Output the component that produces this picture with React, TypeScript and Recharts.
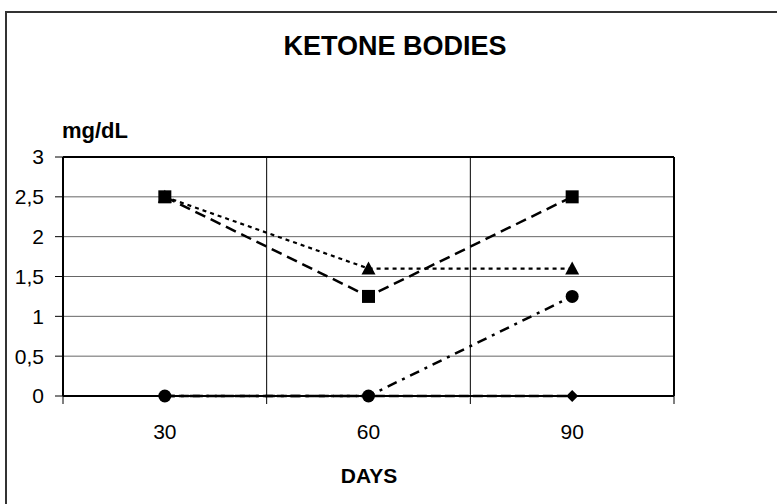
import {
  LineChart,
  Line,
  XAxis,
  YAxis,
  CartesianGrid,
  ReferenceLine,
} from 'recharts';

const days = [30, 60, 90];
const squareValues = [2.5, 1.25, 2.5];
const triangleValues = [2.5, 1.6, 1.6];
const circleValues = [0, 0, 1.25];
const diamondValues = [0, 0, 0];
const yTicks = [0, 0.5, 1, 1.5, 2, 2.5, 3];
const bandEdges = [15, 45, 75, 105];

const data = days.map((day, i) => ({
  day,
  square: squareValues[i],
  triangle: triangleValues[i],
  circle: circleValues[i],
  diamond: diamondValues[i],
}));

const font = "'Liberation Sans', Arial, sans-serif";

const SquareDot = (props: any) => {
  const { cx, cy } = props;
  return <rect key={`s${cx}`} x={cx - 6.5} y={cy - 6.5} width={13} height={13} fill='#000' />;
};

const TriangleDot = (props: any) => {
  const { cx, cy } = props;
  return (
    <polygon
      key={`t${cx}`}
      points={`${cx},${cy - 7} ${cx + 7},${cy + 6} ${cx - 7},${cy + 6}`}
      fill='#000'
    />
  );
};

const CircleDot = (props: any) => {
  const { cx, cy } = props;
  return <circle key={`c${cx}`} cx={cx} cy={cy} r={6.5} fill='#000' />;
};

const DiamondDot = (props: any) => {
  const { cx, cy } = props;
  return (
    <polygon
      key={`d${cx}`}
      points={`${cx},${cy - 6} ${cx + 6},${cy} ${cx},${cy + 6} ${cx - 6},${cy}`}
      fill='#000'
    />
  );
};

const XTick = (props: any) => {
  const { x, y, payload } = props;
  if (bandEdges.includes(payload.value)) {
    return <line x1={x} x2={x} y1={y} y2={y + 8} stroke='#000' strokeWidth={1} />;
  }
  return (
    <text x={x} y={y + 43} textAnchor='middle' fontSize={21} fontFamily={font} fill='#000'>
      {payload.value}
    </text>
  );
};

export default function App() {
  return (
    <div style={{ position: 'absolute', left: 0, top: 0, width: 777, height: 504, background: '#fff' }}>
      <LineChart
        width={777}
        height={504}
        data={data}
        margin={{ top: 157, right: 103, bottom: 58, left: 0 }}
      >
        <CartesianGrid vertical={false} stroke='#666' strokeWidth={1} />
        <XAxis
          dataKey='day'
          type='number'
          domain={[15, 105]}
          ticks={[15, 30, 45, 60, 75, 90, 105]}
          interval={0}
          tickLine={false}
          tickSize={0}
          tickMargin={0}
          tick={<XTick />}
          axisLine={{ stroke: '#000', strokeWidth: 2 }}
          height={50}
        />
        <YAxis
          domain={[0, 3]}
          ticks={yTicks}
          interval={0}
          width={63}
          tickSize={8}
          tickMargin={11}
          tickLine={{ stroke: '#000' }}
          axisLine={{ stroke: '#000', strokeWidth: 2 }}
          tick={{ fill: '#000', fontSize: 21, fontFamily: font }}
          tickFormatter={(v: number) => String(v).replace('.', ',')}
        />
        <ReferenceLine x={45} stroke='#000' strokeWidth={1} />
        <ReferenceLine x={75} stroke='#000' strokeWidth={1} />
        <ReferenceLine x={105} stroke='#000' strokeWidth={2} />
        <ReferenceLine y={3} stroke='#000' strokeWidth={2} />
        <Line
          dataKey='diamond'
          stroke='#000'
          strokeWidth={2.5}
          strokeDasharray='10 4'
          dot={DiamondDot}
          isAnimationActive={false}
        />
        <Line
          dataKey='triangle'
          stroke='#000'
          strokeWidth={2.2}
          strokeDasharray='4 4'
          dot={TriangleDot}
          isAnimationActive={false}
        />
        <Line
          dataKey='circle'
          stroke='#000'
          strokeWidth={2.5}
          strokeDasharray='10 6 3 6'
          dot={CircleDot}
          isAnimationActive={false}
        />
        <Line
          dataKey='square'
          stroke='#000'
          strokeWidth={2.5}
          strokeDasharray='11 6'
          dot={SquareDot}
          isAnimationActive={false}
        />
      </LineChart>
      <svg
        width={777}
        height={504}
        style={{ position: 'absolute', left: 0, top: 0, pointerEvents: 'none' }}
      >
        <path d='M6,520 L6,12 L790,12' fill='none' stroke='#333' strokeWidth={2} />
        <text x={395} y={55} textAnchor='middle' fontSize={27} fontWeight='bold' fontFamily={font} fill='#000'>
          KETONE BODIES
        </text>
        <text x={62} y={138} fontSize={22} fontWeight='bold' fontFamily={font} fill='#000'>
          mg/dL
        </text>
        <text x={369} y={483} textAnchor='middle' fontSize={21} fontWeight='bold' fontFamily={font} fill='#000'>
          DAYS
        </text>
      </svg>
    </div>
  );
}
